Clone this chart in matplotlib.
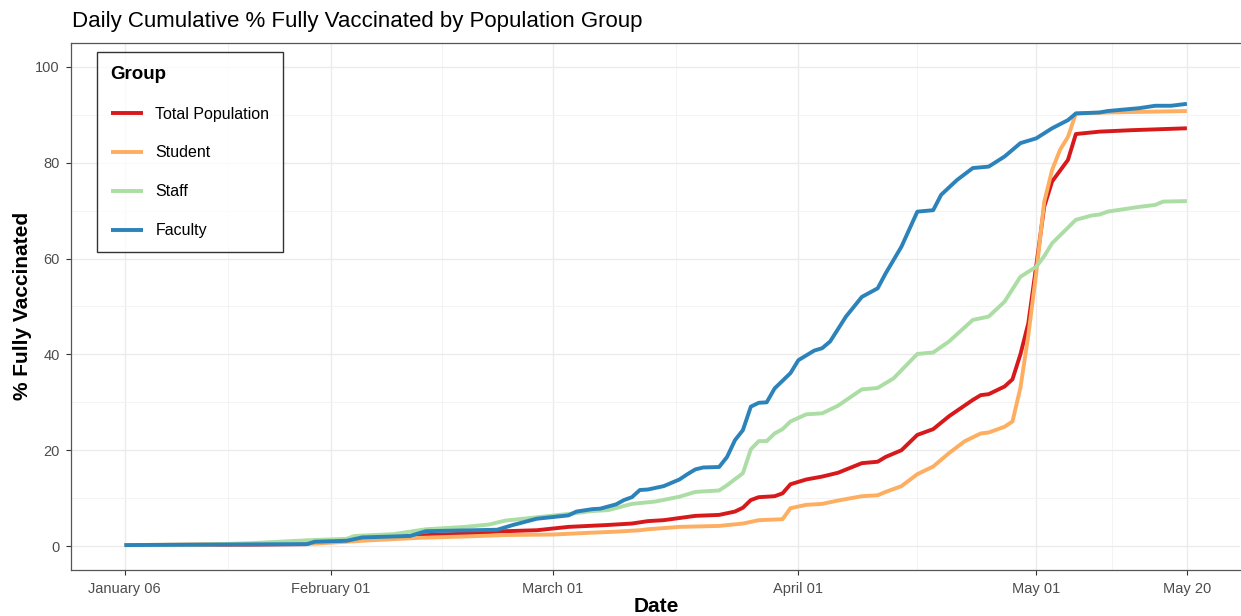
import pandas as pd
import numpy as np
import matplotlib
matplotlib.use('Agg')
import matplotlib.pyplot as plt
import matplotlib.dates as mdates

plt.rcParams['font.family'] = ['Liberation Sans', 'DejaVu Sans']

# values (% fully vaccinated)
total_dates = ['2021-01-06', '2021-01-22', '2021-01-29', '2021-01-30', '2021-02-03', '2021-02-05',
               '2021-02-12', '2021-02-18', '2021-02-23', '2021-02-27', '2021-03-03', '2021-03-08',
               '2021-03-11', '2021-03-13', '2021-03-15', '2021-03-19', '2021-03-22', '2021-03-24',
               '2021-03-25', '2021-03-26', '2021-03-27', '2021-03-29', '2021-03-30', '2021-03-31',
               '2021-04-02', '2021-04-04', '2021-04-06', '2021-04-09', '2021-04-11', '2021-04-12',
               '2021-04-14', '2021-04-16', '2021-04-18', '2021-04-20', '2021-04-23', '2021-04-24',
               '2021-04-25', '2021-04-27', '2021-04-28', '2021-04-29', '2021-04-30', '2021-05-01',
               '2021-05-02', '2021-05-03', '2021-05-05', '2021-05-06', '2021-05-09', '2021-05-13',
               '2021-05-20']
total_vals = [0.2, 0.3, 0.4, 0.9, 1.1, 1.6,
              2.2, 2.6, 3.1, 3.3, 4.0, 4.4,
              4.7, 5.2, 5.4, 6.3, 6.5, 7.2,
              8.0, 9.6, 10.2, 10.4, 11.0, 12.9,
              13.9, 14.5, 15.3, 17.3, 17.6, 18.6,
              20.0, 23.2, 24.4, 27.1, 30.5, 31.5,
              31.7, 33.3, 34.8, 40.0, 46.5, 58.5,
              70.8, 76.1, 80.6, 86.0, 86.5, 86.8,
              87.2]

student_dates = ['2021-01-06', '2021-01-30', '2021-02-03', '2021-02-06', '2021-02-12', '2021-02-18',
                 '2021-02-23', '2021-03-01', '2021-03-06', '2021-03-09', '2021-03-12', '2021-03-13',
                 '2021-03-17', '2021-03-22', '2021-03-25', '2021-03-27', '2021-03-30', '2021-03-31',
                 '2021-04-02', '2021-04-04', '2021-04-06', '2021-04-09', '2021-04-11', '2021-04-12',
                 '2021-04-14', '2021-04-16', '2021-04-18', '2021-04-20', '2021-04-22', '2021-04-24',
                 '2021-04-25', '2021-04-27', '2021-04-28', '2021-04-29', '2021-04-30', '2021-05-01',
                 '2021-05-02', '2021-05-03', '2021-05-04', '2021-05-05', '2021-05-06', '2021-05-10',
                 '2021-05-20']
student_vals = [0.2, 0.5, 0.9, 1.2, 1.7, 2.0,
                2.3, 2.4, 2.8, 3.0, 3.3, 3.5,
                4.0, 4.2, 4.7, 5.4, 5.6, 7.9,
                8.6, 8.8, 9.5, 10.4, 10.6, 11.3,
                12.5, 15.0, 16.6, 19.4, 21.9, 23.5,
                23.7, 24.9, 26.0, 33.0, 44.0, 57.0,
                71.8, 78.5, 82.7, 85.4, 90.3, 90.5,
                90.8]

staff_dates = ['2021-01-06', '2021-01-16', '2021-01-22', '2021-01-29', '2021-02-03', '2021-02-04',
               '2021-02-09', '2021-02-13', '2021-02-18', '2021-02-21', '2021-02-23', '2021-02-27',
               '2021-03-03', '2021-03-06', '2021-03-08', '2021-03-11', '2021-03-14', '2021-03-17',
               '2021-03-19', '2021-03-22', '2021-03-23', '2021-03-25', '2021-03-26', '2021-03-27',
               '2021-03-28', '2021-03-29', '2021-03-30', '2021-03-31', '2021-04-02', '2021-04-04',
               '2021-04-06', '2021-04-09', '2021-04-11', '2021-04-13', '2021-04-16', '2021-04-18',
               '2021-04-20', '2021-04-23', '2021-04-25', '2021-04-27', '2021-04-29', '2021-05-01',
               '2021-05-02', '2021-05-03', '2021-05-06', '2021-05-08', '2021-05-09', '2021-05-10',
               '2021-05-14', '2021-05-16', '2021-05-17', '2021-05-20']
staff_vals = [0.2, 0.3, 0.6, 1.2, 1.5, 2.1,
              2.5, 3.5, 4.0, 4.5, 5.3, 6.0,
              6.7, 7.3, 7.5, 8.8, 9.3, 10.3,
              11.3, 11.6, 12.7, 15.2, 20.2, 21.9,
              21.9, 23.5, 24.4, 26.0, 27.5, 27.7,
              29.3, 32.7, 33.0, 35.0, 40.1, 40.4,
              42.7, 47.2, 47.9, 51.0, 56.2, 58.3,
              60.5, 63.2, 68.1, 69.0, 69.2, 69.8,
              70.8, 71.2, 71.9, 72.0]

faculty_dates = ['2021-01-06', '2021-01-22', '2021-01-29', '2021-01-30', '2021-02-03', '2021-02-05',
                 '2021-02-11', '2021-02-13', '2021-02-22', '2021-02-24', '2021-02-27', '2021-03-03',
                 '2021-03-04', '2021-03-06', '2021-03-07', '2021-03-09', '2021-03-10', '2021-03-11',
                 '2021-03-12', '2021-03-13', '2021-03-15', '2021-03-17', '2021-03-18', '2021-03-19',
                 '2021-03-20', '2021-03-22', '2021-03-23', '2021-03-24', '2021-03-25', '2021-03-26',
                 '2021-03-27', '2021-03-28', '2021-03-29', '2021-03-31', '2021-04-01', '2021-04-03',
                 '2021-04-04', '2021-04-05', '2021-04-07', '2021-04-09', '2021-04-11', '2021-04-12',
                 '2021-04-14', '2021-04-16', '2021-04-18', '2021-04-19', '2021-04-21', '2021-04-23',
                 '2021-04-25', '2021-04-27', '2021-04-29', '2021-05-01', '2021-05-03', '2021-05-05',
                 '2021-05-06', '2021-05-09', '2021-05-10', '2021-05-14', '2021-05-16', '2021-05-18',
                 '2021-05-20']
faculty_vals = [0.2, 0.35, 0.4, 0.9, 1.1, 1.8,
                2.1, 3.1, 3.4, 4.4, 5.7, 6.4,
                7.2, 7.7, 7.8, 8.7, 9.6, 10.2,
                11.7, 11.8, 12.5, 13.9, 15.0, 16.0,
                16.4, 16.5, 18.6, 22.1, 24.2, 29.1,
                29.9, 30.0, 32.9, 36.1, 38.8, 40.8,
                41.3, 42.7, 47.9, 52.0, 53.8, 56.9,
                62.5, 69.8, 70.1, 73.3, 76.4, 78.9,
                79.2, 81.3, 84.1, 85.1, 87.2, 88.9,
                90.3, 90.5, 90.8, 91.4, 91.9, 91.9,
                92.3]

groups = ['Total Population', 'Student', 'Staff', 'Faculty']
colors = ['#D7191C', '#FDAE61', '#ABDDA4', '#2B83BA']
series = [(total_dates, total_vals), (student_dates, student_vals),
          (staff_dates, staff_vals), (faculty_dates, faculty_vals)]

tick_dates = pd.to_datetime(['2021-01-06', '2021-02-01', '2021-03-01', '2021-04-01', '2021-05-01', '2021-05-20'])

fig = plt.figure(figsize=(12.41, 6.16), dpi=100)
W, H = 1241, 616
ax = fig.add_axes([71.4 / W, 1 - 570 / H, (1240 - 71.4) / W, (570 - 43) / H])

for g, c, (d, v) in zip(groups, colors, series):
    ax.plot(pd.to_datetime(d), v, color=c, lw=2.8, label=g, solid_capstyle='butt')

# x range with ggplot-like 5% expansion
x0 = mdates.date2num(tick_dates[0])
x1 = mdates.date2num(tick_dates[-1])
pad = (x1 - x0) * 0.05
ax.set_xlim(x0 - pad, x1 + pad)
ax.set_ylim(-5, 105)

ax.set_xticks(tick_dates)
ax.xaxis.set_major_formatter(mdates.DateFormatter('%B %d'))
tnum = mdates.date2num(tick_dates)
ax.set_xticks((tnum[:-1] + tnum[1:]) / 2, minor=True)
ax.set_yticks([0, 20, 40, 60, 80, 100])
ax.set_yticks([10, 30, 50, 70, 90], minor=True)

ax.grid(which='major', color='#EBEBEB', lw=1.0)
ax.grid(which='minor', color='#F3F3F3', lw=0.7)
ax.set_axisbelow(True)

ax.tick_params(which='major', length=3.5, color='#333333', labelsize=10.5, labelcolor='#4D4D4D', pad=5)
ax.tick_params(which='minor', length=0)

for s in ['top', 'left', 'bottom']:
    ax.spines[s].set_color('#555555')
    ax.spines[s].set_linewidth(0.9)
ax.spines['right'].set_visible(False)

fig.text(72 / W, 1 - 22 / H, 'Daily Cumulative % Fully Vaccinated by Population Group',
         fontsize=16, ha='left', va='center', color='black')
fig.text(656 / W, 1 - 606 / H, 'Date', fontsize=15, fontweight='bold', ha='center', va='center')
fig.text(22 / W, 1 - 306 / H, '% Fully Vaccinated', fontsize=15, fontweight='bold',
         ha='center', va='center', rotation=90)

leg = ax.legend(loc='upper left', bbox_to_anchor=((97 - 71.4) / (1240 - 71.4), (570 - 52) / 527),
                borderaxespad=0, title='Group', fontsize=11.5, frameon=True, fancybox=False,
                edgecolor='black', handlelength=2.0, handletextpad=0.8, labelspacing=1.5,
                borderpad=0.85, title_fontproperties={'weight': 'bold', 'size': 13.5},
                alignment='left')
leg.get_frame().set_linewidth(1.0)

fig.savefig('out.png', dpi=100)
